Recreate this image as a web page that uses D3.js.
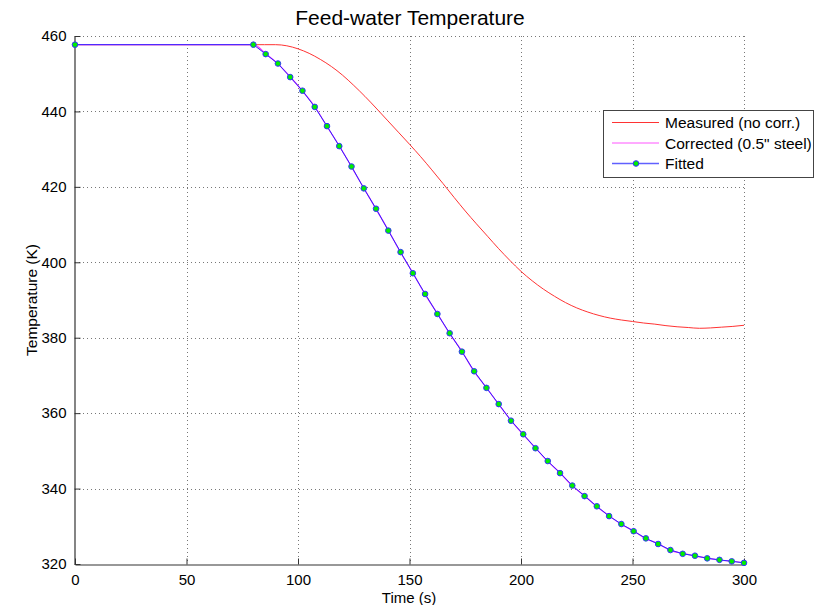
<!DOCTYPE html>
<html>
<head>
<meta charset="utf-8">
<script src="https://cdn.jsdelivr.net/npm/d3@7"></script>
<style>
  html, body { margin: 0; padding: 0; background: #fff; }
  svg { display: block; font-family: "Liberation Sans", Arial, sans-serif; }
</style>
</head>
<body>
<svg id="chart" width="828" height="605"></svg>
<script>
// ---- Data ----
const title = "Feed-water Temperature";
const xLabel = "Time (s)";
const yLabel = "Temperature (K)";
const xTicks = [0, 50, 100, 150, 200, 250, 300];
const yTicks = [320, 340, 360, 380, 400, 420, 440, 460];
const legendLabels = ["Measured (no corr.)", "Corrected (0.5\" steel)", "Fitted"];

// Measured (no correction)
const measuredTime = [0, 10, 20, 30, 40, 50, 60, 70, 80, 85, 90, 95, 100, 105, 110, 115, 120, 125, 130, 135, 140,
  145, 150, 155, 160, 165, 170, 175, 180, 185, 190, 195, 200, 205, 210, 215, 220, 225, 230, 235, 240,
  245, 250, 255, 260, 265, 270, 275, 280, 285, 290, 295, 300];
const measuredTemp = [457.7, 457.7, 457.7, 457.7, 457.7, 457.7, 457.7, 457.7, 457.7, 457.7, 457.7, 457.4, 456.6, 455.4, 453.8, 451.9, 449.6, 446.9, 444.0, 440.9, 437.7,
  434.5, 431.3, 428.0, 424.5, 420.9, 417.2, 413.6, 410.2, 406.9, 403.6, 400.5, 397.6, 395.1, 392.9, 391.0, 389.3, 387.9, 386.8, 385.9, 385.2,
  384.7, 384.3, 383.9, 383.6, 383.2, 382.9, 382.7, 382.5, 382.6, 382.8, 383.0, 383.3];

// Fitted sample times: 0, then 80 to 300 every 5.5 s
const fittedTime = [0, 80, 85.5, 91, 96.5, 102, 107.5, 113, 118.5, 124, 129.5, 135, 140.5, 146, 151.5, 157, 162.5,
  168, 173.5, 179, 184.5, 190, 195.5, 201, 206.5, 212, 217.5, 223, 228.5, 234, 239.5, 245, 250.5,
  256, 261.5, 267, 272.5, 278, 283.5, 289, 294.5, 300];
const fittedTemp = [457.7, 457.7, 455.2, 452.7, 449.1, 445.5, 441.2, 436.1, 430.8, 425.4, 419.6, 414.2, 408.4, 402.7, 397.1,
  391.6, 386.3, 381.2, 376.3, 371.1, 366.7, 362.4, 358.0, 354.4, 350.7, 347.3, 344.1, 340.8, 338.0, 335.3,
  332.7, 330.6, 328.7, 326.8, 325.3, 323.7, 322.7, 322.2, 321.5, 321.1, 320.7, 320.3];

// Corrected (0.5" steel) - lies under the fitted curve
const correctedTime = fittedTime;
const correctedTemp = [457.7, 457.7, 455.3, 452.6, 449.2, 445.4, 441.3, 436.0, 430.9, 425.3, 419.7, 414.1, 408.5, 402.6, 397.2,
  391.5, 386.4, 381.1, 376.4, 371.0, 366.8, 362.3, 358.1, 354.3, 350.8, 347.2, 344.2, 340.7, 338.1, 335.2,
  332.8, 330.5, 328.8, 326.7, 325.4, 323.6, 322.8, 322.1, 321.6, 321.0, 320.8, 320.3];

// ---- Drawing ----
const svg = d3.select("#chart");
const pL = 75, pR = 744, pT = 36, pB = 564;

const x = d3.scaleLinear().domain([0, 300]).range([pL, pR]);
const y = d3.scaleLinear().domain([320, 460]).range([pB, pT]);

// grid
const grid = svg.append("g");
grid.selectAll("line.vx").data(xTicks.filter(d => d > 0)).enter().append("line")
  .attr("x1", d => Math.round(x(d)) + 0.5).attr("x2", d => Math.round(x(d)) + 0.5)
  .attr("y1", pT).attr("y2", pB)
  .attr("stroke", "#777").attr("stroke-width", 1).attr("stroke-dasharray", "1,3");
grid.selectAll("line.hy").data(yTicks.filter(d => d > 320)).enter().append("line")
  .attr("y1", d => Math.round(y(d)) + 0.5).attr("y2", d => Math.round(y(d)) + 0.5)
  .attr("x1", pL).attr("x2", pR)
  .attr("stroke", "#777").attr("stroke-width", 1).attr("stroke-dasharray", "1,3");

// axes
const xAxis = d3.axisBottom(x).tickValues(xTicks).tickSizeInner(-6).tickSizeOuter(0).tickPadding(10);
const yAxis = d3.axisLeft(y).tickValues(yTicks).tickSizeInner(-6).tickSizeOuter(0).tickPadding(8);

const gx = svg.append("g").attr("transform", `translate(0,${pB + 0.5})`).call(xAxis);
const gy = svg.append("g").attr("transform", `translate(${pL - 0.5},0)`).call(yAxis);
[gx, gy].forEach(g => {
  g.select(".domain").attr("stroke", "#333").attr("stroke-width", 1.2);
  g.selectAll(".tick line").attr("stroke", "#333");
  g.selectAll(".tick text").attr("fill", "#000").style("font-size", "15px")
    .style("font-family", "'Liberation Sans', Arial, sans-serif");
});

// lines
const measured = measuredTime.map((t, i) => [t, measuredTemp[i]]);
const corrected = correctedTime.map((t, i) => [t, correctedTemp[i]]);
const fitted = fittedTime.map((t, i) => [t, fittedTemp[i]]);
const smooth = d3.line().x(d => x(d[0])).y(d => y(d[1])).curve(d3.curveMonotoneX);
const straight = d3.line().x(d => x(d[0])).y(d => y(d[1]));

svg.append("path").attr("d", smooth(measured))
  .attr("fill", "none").attr("stroke", "#ff3333").attr("stroke-width", 1);
svg.append("path").attr("d", smooth(corrected))
  .attr("fill", "none").attr("stroke", "#ff33ff").attr("stroke-width", 1.2);
svg.append("path").attr("d", straight(fitted))
  .attr("fill", "none").attr("stroke", "#2a2aff").attr("stroke-width", 1);
svg.append("g").selectAll("circle").data(fitted).enter().append("circle")
  .attr("cx", d => x(d[0])).attr("cy", d => y(d[1])).attr("r", 2.8)
  .attr("fill", "#00ee00").attr("stroke", "#3333ff").attr("stroke-width", 1);

// title and labels
svg.append("text").attr("x", 410).attr("y", 25).attr("text-anchor", "middle")
  .style("font-size", "21px").text(title);
svg.append("text").attr("x", 409).attr("y", 603).attr("text-anchor", "middle")
  .style("font-size", "15px").text(xLabel);
svg.append("text").attr("transform", "translate(37,300) rotate(-90)").attr("text-anchor", "middle")
  .style("font-size", "15.5px").text(yLabel);

// legend
const lg = svg.append("g");
lg.append("rect").attr("x", 603.5).attr("y", 110.5).attr("width", 210).attr("height", 67)
  .attr("fill", "#fff").attr("stroke", "#444").attr("stroke-width", 1);
const legColors = ["#ff3333", "#ff55ff", "#6060ff"];
const rowY = [122.5, 143, 163.5];
legendLabels.forEach((lab, i) => {
  lg.append("line").attr("x1", 612).attr("x2", 659).attr("y1", rowY[i]).attr("y2", rowY[i])
    .attr("stroke", legColors[i]).attr("stroke-width", i === 2 ? 1.5 : 1);
  lg.append("text").attr("x", 665).attr("y", rowY[i] + 5.5).style("font-size", "15.5px").text(lab);
});
lg.append("circle").attr("cx", 636).attr("cy", rowY[2]).attr("r", 2.8)
  .attr("fill", "#00ee00").attr("stroke", "#3333ff").attr("stroke-width", 1);
</script>
</body>
</html>
